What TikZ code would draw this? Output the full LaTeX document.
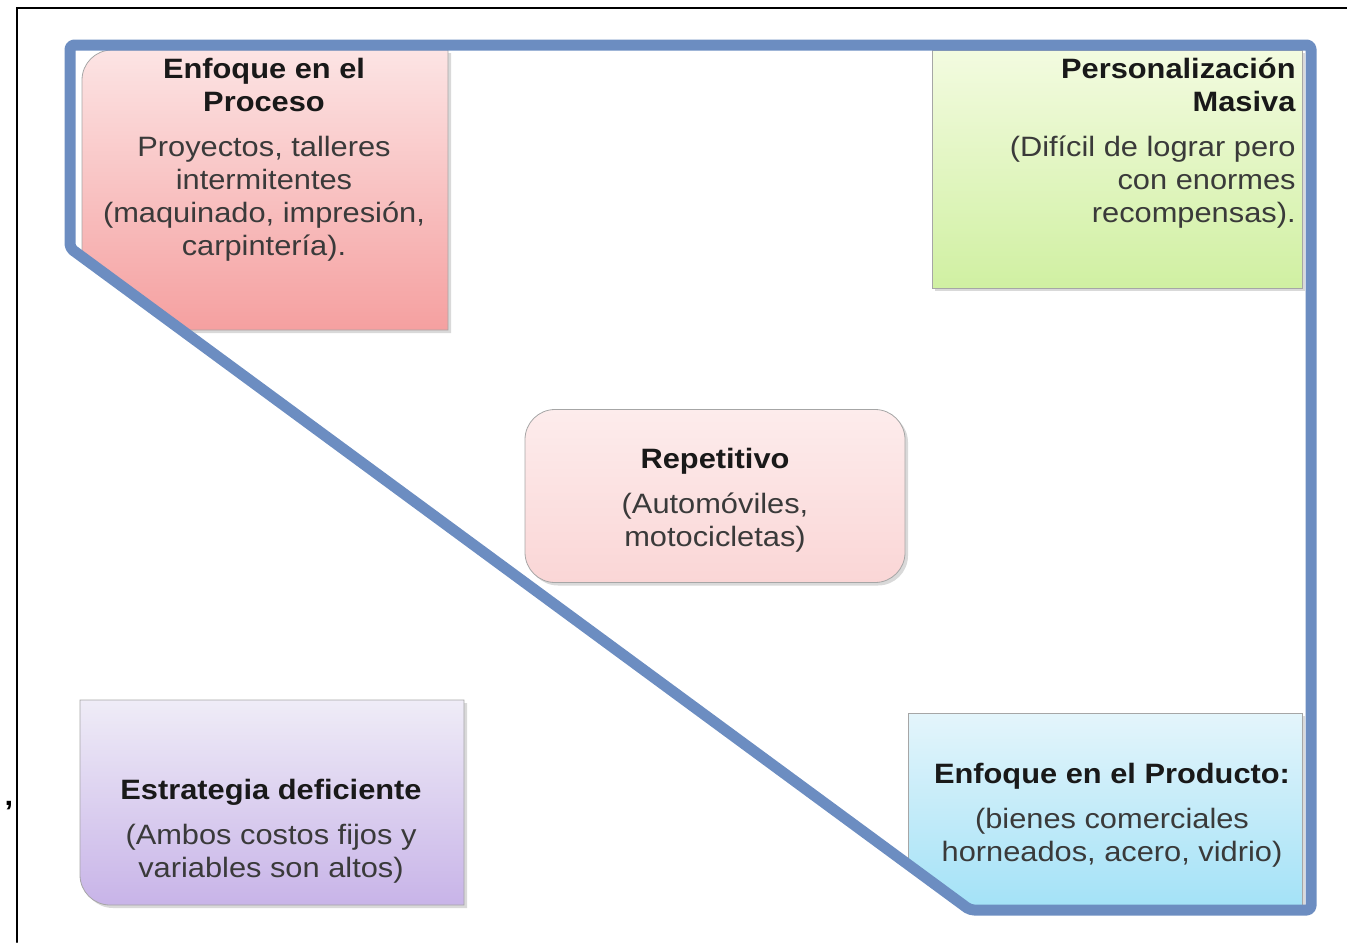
\documentclass[tikz,border=0pt]{standalone}
\usepackage{fontspec}
\setmainfont[FakeStretch=1.1]{Liberation Sans}
\usetikzlibrary{shadows}
\definecolor{marco}{RGB}{108,141,193}
\definecolor{rojoA}{RGB}{252,228,228}
\definecolor{rojoB}{RGB}{245,160,160}
\definecolor{verdeA}{RGB}{243,251,224}
\definecolor{verdeB}{RGB}{208,240,162}
\definecolor{rosaA}{RGB}{253,236,236}
\definecolor{rosaB}{RGB}{250,214,214}
\definecolor{moradoA}{RGB}{239,236,247}
\definecolor{moradoB}{RGB}{200,180,232}
\definecolor{azulA}{RGB}{228,245,251}
\definecolor{azulB}{RGB}{164,226,247}
\definecolor{titulo}{RGB}{25,25,25}
\definecolor{cuerpo}{RGB}{58,58,58}
\tikzset{
  caja/.style={draw=black!35, line width=0.4pt,
    drop shadow={opacity=0.3, shadow xshift=1.5pt, shadow yshift=-1.5pt}},
  texto/.style={align=center, inner sep=0pt, text=cuerpo,
    font=\fontsize{14}{16.5}\selectfont},
}
\newcommand{\tit}[1]{\textcolor{titulo}{\textbf{#1}}}

\begin{document}
\begin{tikzpicture}[x=0.5pt,y=0.5pt,line cap=round]
\useasboundingbox (0,0) rectangle (1347,-942);
\draw[line width=1pt] (17,-942) -- (17,-8) -- (1347,-8);
\node[font=\bfseries\fontsize{14}{14}\selectfont] (coma) at (9,-806) {,};
\begin{scope}
\clip (70,-45) -- (1311,-45) -- (1311,-910) -- (970,-910) -- (70,-248) -- cycle;
\draw[caja, top color=rojoA, bottom color=rojoB] (82,-80) arc[start angle=180,end angle=90,radius=30] -- (448,-50) -- (448,-330) -- (82,-330) -- cycle;
\draw[caja, top color=azulA, bottom color=azulB] (908,-713) -- (1302,-713) -- (1302,-905) -- (908,-905) -- cycle;
\end{scope}
\draw[caja, top color=verdeA, bottom color=verdeB] (932,-50) rectangle (1302,-288);
\draw[caja, top color=moradoA, bottom color=moradoB] (80,-700) -- (464,-700) -- (464,-905) -- (110,-905) arc[start angle=270,end angle=180,radius=30] -- cycle;
\node[caja, texto, rounded corners=15pt, top color=rosaA, bottom color=rosaB, minimum width=190pt, minimum height=86.5pt] (rep) at (715,-496) {};
\node[texto] (repx) at (715,-500) {\tit{Repetitivo}\\[6pt](Automóviles,\\motocicletas)};
\draw[marco, line width=5.5pt, line join=round, rounded corners=2pt] (70,-45) -- (1311,-45) -- (1311,-910) -- (970,-910) -- (70,-248) -- cycle;
\node[texto, anchor=north] (proc) at (264,-58) {\tit{Enfoque en el}\\\tit{Proceso}\\[6pt]Proyectos, talleres\\intermitentes\\(maquinado, impresión,\\carpintería).};
\node[texto, align=right, anchor=north east] (pers) at (1296,-58) {\tit{Personalización}\\\tit{Masiva}\\[6pt](Difícil de lograr pero\\con enormes\\recompensas).};
\node[texto, anchor=north] (est) at (271,-779) {\tit{Estrategia deficiente}\\[6pt](Ambos costos fijos y\\variables son altos)};
\node[texto, anchor=north] (prod) at (1112,-763) {\tit{Enfoque en el Producto:}\\[6pt](bienes comerciales\\horneados, acero, vidrio)};
\end{tikzpicture}
\end{document}
